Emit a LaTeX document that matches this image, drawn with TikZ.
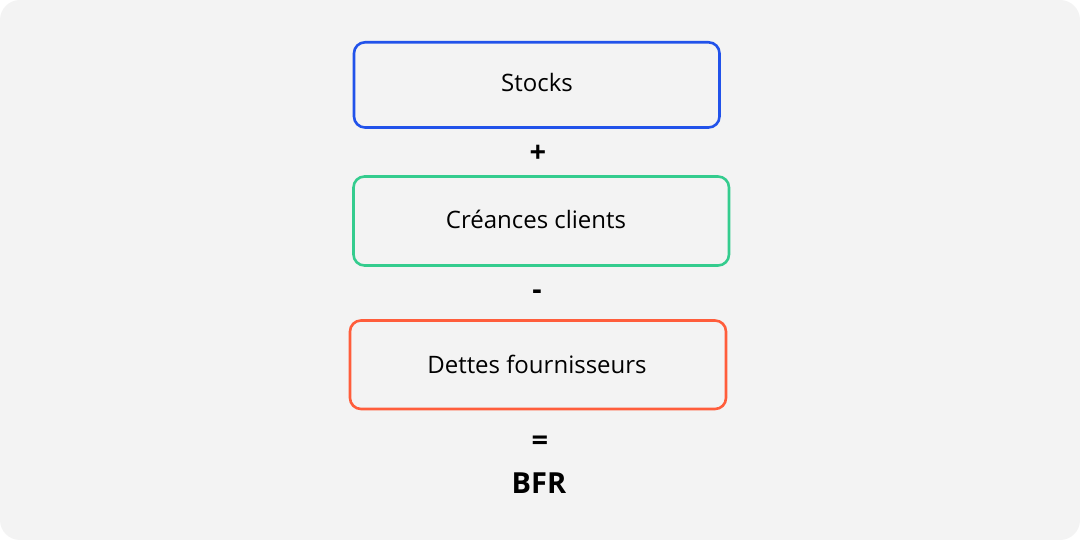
\documentclass[tikz,border=0pt]{standalone}
\usepackage{fontspec}
\setmainfont{Open Sans}
\definecolor{bg}{HTML}{F3F3F3}
\definecolor{cblue}{HTML}{2152EA}
\definecolor{cgreen}{HTML}{34CC8E}
\definecolor{corange}{HTML}{FF5D3B}
\tikzset{
  box/.style={draw, line width=2.6pt, rounded corners=11pt, fill=none},
  lbl/.style={font=\fontsize{24}{28}\selectfont, text=black},
  op/.style={font=\fontsize{29}{32}\selectfont\bfseries, text=black}
}
\begin{document}
\begin{tikzpicture}[x=1pt,y=-1pt]
\useasboundingbox (0,0) rectangle (1080,540);
\fill[white] (0,0) rectangle (1080,540);
\fill[bg, rounded corners=20pt] (0,0) rectangle (1080,540);
\draw[box, cblue] (354,42.3) rectangle (719.5,127.5);
\draw[box, cgreen] (353.5,176.5) rectangle (729,265.5);
\draw[box, corange] (350,320.5) rectangle (726,409);
\node[lbl] (s) at (537,83) {Stocks};
\node[lbl] (c) at (536,219) {Créances clients};
\node[lbl] (d) at (537,364) {Dettes fournisseurs};
\node[op] (plus) at (538,154) {+};
\node[op] (minus) at (537,295) {-};
\node[op] (eq) at (540,443) {=};
\node[op] (bfr) at (539,483) {BFR};
\end{tikzpicture}
\end{document}
